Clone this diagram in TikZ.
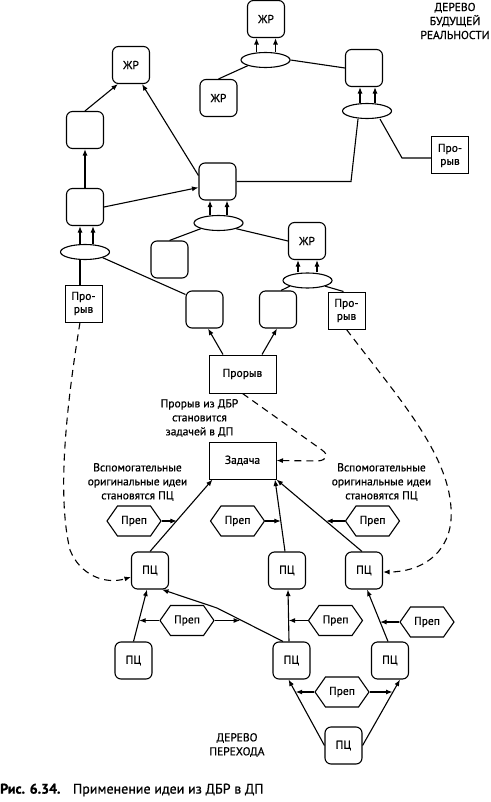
\documentclass[tikz,border=0pt]{standalone}
\usepackage{fontspec}
\setmainfont{PT Sans}[FakeBold=0.8]
\usetikzlibrary{shapes.geometric,shapes.symbols,arrows.meta,calc}
\begin{document}
\begin{tikzpicture}[x=1pt,y=-1pt,
  every node/.style={font=\fontsize{11.5}{14}\selectfont},
  rbox/.style={draw,line width=1.1pt,rounded corners=6pt,minimum width=37pt,minimum height=37pt,inner sep=0pt},
  sbox/.style={draw,line width=1pt,minimum width=37pt,minimum height=37pt,inner sep=0pt,align=center,font=\fontsize{11.5}{13}\selectfont},
  wbox/.style={draw,line width=1pt,minimum width=67pt,minimum height=38pt,inner sep=0pt},
  ell/.style={draw,line width=1.1pt,ellipse,minimum width=49pt,minimum height=15pt,inner sep=0pt},
  hexa/.style={draw,line width=1.1pt,signal,signal to=west and east,signal pointer angle=110,minimum width=54pt,minimum height=30pt,inner sep=0pt},
  txt/.style={align=center,inner sep=0pt},
  ln/.style={line width=1.1pt},
  arr/.style={line width=1.1pt,-{Latex[length=6.5pt,width=5pt]}},
  dsh/.style={line width=1.1pt,dash pattern=on 7pt off 5pt,-{Latex[length=6.5pt,width=5pt]}}
]
\useasboundingbox (0,0) rectangle (490,802);
% ---- top tree (DBR)
\node[rbox] (zrT) at (266,19) {ЖР};
\node[ell] (e1) at (265.5,60) {};
\node[rbox] (zrL) at (218.5,98) {ЖР};
\node[rbox] (bTR) at (364,68) {};
\node[ell] (e2) at (367,111) {};
\node[sbox] (prR) at (450,155.5) {Про-\\рыв};
\node[rbox] (zrUL) at (131,65) {ЖР};
\node[rbox] (bL1) at (85,130) {};
\node[rbox] (bL2) at (85,207) {};
\node[rbox] (bC) at (217.5,181.5) {};
\node[ell] (e3) at (218.5,223) {};
\node[rbox] (zrM) at (307,241) {ЖР};
\node[rbox] (bLL) at (169.5,259.5) {};
\node[ell] (e4) at (85,252) {};
\node[sbox] (prL) at (83.5,303.5) {Про-\\рыв};
\node[ell] (e5) at (307.5,280.5) {};
\node[rbox] (bM1) at (204.5,309.5) {};
\node[rbox] (bM2) at (278,309.5) {};
\node[sbox] (prM) at (346.5,310.5) {Про-\\рыв};
\node[wbox] (prC) at (242.5,374) {Прорыв};
\node[txt] (t1) at (199.5,418) {Прорыв из ДБР\\становится\\задачей в ДП};
\node[wbox,minimum height=37pt] (zad) at (242.5,460.5) {Задача};
\node[txt] (tL) at (137.5,482) {Вспомогательные\\оригинальные идеи\\становятся ПЦ};
\node[txt] (tR) at (381.5,482) {Вспомогательные\\оригинальные идеи\\становятся ПЦ};
\node[txt] (tDBR) at (455,21) {ДЕРЕВО\\БУДУЩЕЙ\\РЕАЛЬНОСТИ};
% ---- bottom tree (DP)
\node[hexa] (h1) at (134,521) {Преп};
\node[hexa] (h2) at (237.5,521) {Преп};
\node[hexa] (h3) at (372.5,521) {Преп};
\node[rbox] (pc1) at (150,570.5) {ПЦ};
\node[rbox] (pc2) at (287,570.5) {ПЦ};
\node[rbox] (pc3) at (364,570.5) {ПЦ};
\node[hexa] (h4) at (187,620.5) {Преп};
\node[hexa] (h5) at (335.5,620.5) {Преп};
\node[hexa] (h6) at (427,622) {Преп};
\node[rbox] (pc4) at (133.5,660.5) {ПЦ};
\node[rbox] (pc5) at (291.5,660.5) {ПЦ};
\node[rbox] (pc6) at (390,660.5) {ПЦ};
\node[hexa] (h7) at (342,692) {Преп};
\node[rbox] (pc7) at (343.5,745.5) {ПЦ};
\node[txt] (tDP) at (237,745) {ДЕРЕВО\\ПЕРЕХОДА};
\node[anchor=west,inner sep=0pt,font=\fontsize{14}{16}\selectfont] (cap) at (0,790) {\textbf{Рис. 6.34.}\hspace{0.9em}Применение идеи из ДБР в ДП};
% ---- bend coordinates
\coordinate (k1) at (351,181.5);
\coordinate (k2) at (402,158);
\coordinate (k3) at (322,450);
\coordinate (k3b) at (318,461);
\coordinate (k4) at (217,608);
% ---- top connectors
\foreach \d in {-9,10} \draw[arr] ([xshift=\d pt]e1.north) -- ([xshift=\d pt]e1.north |- zrT.south);
\draw[ln] (zrL.north) -- (e1.south west);
\draw[ln] (e1.east) -- (bTR.west);
\foreach \d in {-7,8} \draw[arr] ([xshift=\d pt]e2.north) -- ([xshift=\d pt]e2.north |- bTR.south);
\draw[ln] ([xshift=-9pt]e2.south) -- (k1) -- (bC.east);
\draw[ln] ([yshift=-2.5pt]prR.west) -- (k2) -- ([xshift=13pt]e2.south);
\draw[arr] (bL1.north) -- ([xshift=6pt]zrUL.south west);
\draw[arr] (bL2.north) -- (bL1.south);
\draw[arr] (bL2.east) -- ([yshift=-6pt]bC.west);
\draw[arr] ([yshift=6pt]bC.west) -- ([xshift=11pt]zrUL.south);
\foreach \d in {-8.5,8.5} \draw[arr] ([xshift=\d pt]e3.north) -- ([xshift=\d pt]e3.north |- bC.south);
\draw[ln] (e3.south west) -- (bLL.north);
\draw[ln] (e3.south east) -- (zrM.west);
\foreach \d in {-9.5,9.5} \draw[arr] ([xshift=\d pt]e5.north) -- ([xshift=\d pt]e5.north |- zrM.south);
\draw[ln] (e5.south west) -- ([xshift=3pt]bM2.north);
\draw[ln] (e5.south east) -- ([xshift=-3pt]prM.north);
\foreach \d in {-5,8} \draw[arr] ([xshift=\d pt]e4.north) -- ([xshift=\d pt]e4.north |- bL2.south);
\draw[ln] ([xshift=-5pt]e4.south) -- ([xshift=-5pt]e4.south |- prL.north);
\draw[ln] (e4.south east) -- ([yshift=-4pt]bM1.north west);
\draw[arr] ([xshift=-19.5pt]prC.north) -- ([xshift=3.5pt]bM1.south);
\draw[arr] ([xshift=19.5pt]prC.north) -- ([xshift=-1pt]bM2.south);
% ---- dashed connectors
\draw[dsh] (prC.south) -- (k3) .. controls (329,455) and (327,460) .. (k3b) -- (zad.east);
\draw[dsh] ([xshift=-3.5pt]prL.south) .. controls (64,420) and (58,500) .. (70,550) .. controls (80,575) and (105,585) .. ([yshift=-6.5pt]pc1.west);
\draw[dsh] (prM.south) .. controls (400,400) and (455,460) .. (451,520) .. controls (448,555) and (420,572) .. ([yshift=-1.5pt]pc3.east);
% ---- bottom connectors
\draw[arr] (pc1.north) -- coordinate[pos=0.43] (j1) ([xshift=4pt]zad.south west);
\draw[arr] (h1.east) -- (h1.east -| j1);
\draw[arr] ([xshift=-2pt]pc2.north) -- coordinate[pos=0.42] (j2) ([xshift=32.5pt]zad.south);
\draw[arr] (h2.east) -- (h2.east -| j2);
\draw[arr] ([xshift=-2pt]pc3.north) -- coordinate[pos=0.42] (j3) (zad.south east);
\draw[arr] (h3.west) -- (h3.west -| j3);
\draw[arr] (pc4.north) -- coordinate[pos=0.42] (j4) ([xshift=-3pt]pc1.south);
\draw[arr] (h4.west) -- (h4.west -| j4);
\draw[arr] ([xshift=-8.5pt]pc5.north) -- coordinate[pos=0.65] (j5) (k4) -- ([xshift=12pt]pc1.south);
\draw[arr] (h4.east) -- (h4.east -| j5);
\draw[arr] ([xshift=-2.5pt]pc5.north) -- coordinate[pos=0.42] (j6) ([xshift=1pt]pc2.south);
\draw[arr] (h5.west) -- (h5.west -| j6);
\draw[arr] ([xshift=-2pt]pc6.north) -- coordinate[pos=0.38] (j7) ([xshift=3pt]pc3.south);
\draw[arr] (h6.west) -- (h6.west -| j7);
\draw[arr] (pc7.west) -- coordinate[pos=0.8] (j8) ([xshift=-3pt]pc5.south);
\draw[arr] (h7.west) -- (h7.west -| j8);
\draw[arr] (pc7.east) -- coordinate[pos=0.8] (j9) ([xshift=10pt]pc6.south);
\draw[arr] (h7.east) -- (h7.east -| j9);
\end{tikzpicture}
\end{document}
